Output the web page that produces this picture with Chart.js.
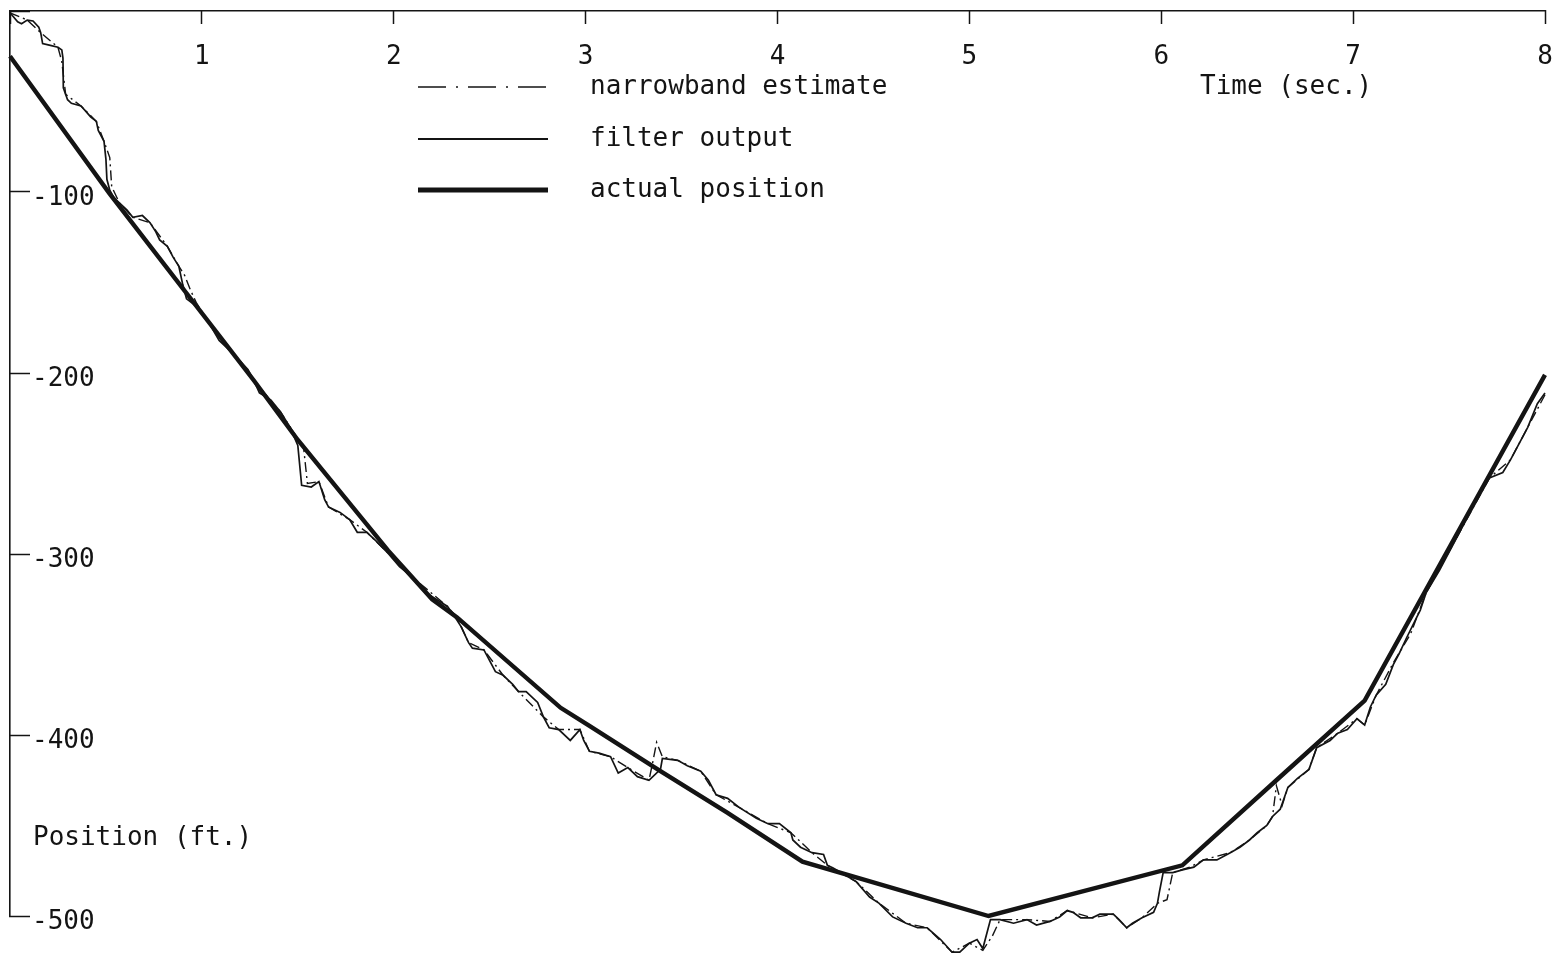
<!DOCTYPE html>
<html>
<head>
<meta charset="utf-8">
<title>Position vs. time</title>
<script src="https://cdn.jsdelivr.net/npm/chart.js@4.4.1/dist/chart.umd.min.js"></script>
<style>
  html, body { margin: 0; padding: 0; background: #ffffff; }
  canvas { display: block; }
</style>
</head>
<body>
<canvas id="plot" width="1558" height="960"></canvas>
<script>
// Tick labels shown on the axes
const timeTicks = [1, 2, 3, 4, 5, 6, 7, 8];
const positionTicks = [-100, -200, -300, -400, -500];

// Series names (legend order)
const seriesNames = ['narrowband estimate', 'filter output', 'actual position'];
const xTitle = 'Time (sec.)';
const yTitle = 'Position (ft.)';

// actual position: [time (s), position (ft)]
const actualPosition = [
  [0, -25], [0.52, -101], [1.27, -204], [1.50, -237], [1.97, -298], [2.20, -325],
  [2.33, -335], [2.87, -385], [3.02, -395], [3.39, -420], [3.74, -443], [4.13, -470],
  [5.10, -500], [6.11, -472], [6.60, -425], [7.06, -381], [8.00, -201]
];

// filter output: [time (s), position (ft)]
const filterOutput = [
  [0, -1], [0.04, -6], [0.06, -7], [0.09, -5], [0.12, -5.5], [0.15, -9], [0.16, -12], [0.17, -18], [0.21, -19], [0.25, -20],
  [0.27, -21.5], [0.276, -26], [0.278, -42.5], [0.30, -49], [0.32, -51], [0.37, -52.5], [0.40, -56], [0.42, -58.5], [0.45, -61], [0.46, -66],
  [0.49, -72], [0.50, -82], [0.505, -93], [0.52, -99], [0.54, -103], [0.57, -106], [0.61, -110], [0.64, -114], [0.69, -113], [0.73, -117],
  [0.76, -122], [0.78, -126.5], [0.82, -130], [0.85, -136], [0.88, -141], [0.90, -151], [0.92, -159], [0.97, -163], [1.03, -171], [1.09, -182],
  [1.16, -189], [1.24, -198], [1.27, -204], [1.30, -211], [1.36, -215], [1.41, -221.5], [1.46, -230], [1.50, -240], [1.52, -262], [1.57, -263],
  [1.61, -260], [1.64, -270], [1.66, -274], [1.72, -277], [1.77, -281], [1.81, -288], [1.86, -288], [1.91, -293], [1.97, -299.5], [2.03, -307],
  [2.10, -313], [2.17, -321.5], [2.28, -329], [2.32, -335], [2.35, -340], [2.39, -349], [2.41, -352], [2.47, -353], [2.49, -357], [2.53, -365],
  [2.57, -367], [2.62, -372], [2.65, -376], [2.69, -376], [2.75, -382], [2.78, -390], [2.81, -396], [2.86, -397], [2.92, -403], [2.97, -397],
  [2.99, -403], [3.02, -409], [3.07, -410], [3.13, -412], [3.17, -421], [3.22, -418], [3.27, -423], [3.33, -425], [3.39, -419], [3.40, -413],
  [3.48, -414], [3.53, -417], [3.60, -420], [3.64, -425], [3.68, -433], [3.74, -435], [3.80, -440], [3.89, -446], [3.95, -449], [4.01, -449],
  [4.07, -454], [4.08, -458], [4.12, -462], [4.18, -465], [4.24, -466], [4.26, -472], [4.29, -473.5], [4.41, -481], [4.48, -489.5], [4.53, -493],
  [4.60, -500.5], [4.67, -504], [4.73, -506.5], [4.78, -506.5], [4.85, -513], [4.91, -520], [4.95, -520], [5.00, -515], [5.04, -513], [5.07, -518],
  [5.11, -502], [5.16, -502], [5.23, -504], [5.30, -502], [5.35, -505], [5.42, -503], [5.47, -500.5], [5.51, -497], [5.54, -498], [5.58, -501],
  [5.64, -501], [5.68, -499], [5.75, -499], [5.78, -502], [5.82, -506.5], [5.85, -504], [5.90, -501], [5.96, -498], [5.98, -493], [5.99, -487],
  [6.01, -476], [6.06, -476], [6.11, -474.5], [6.17, -473], [6.22, -469], [6.29, -469], [6.36, -465], [6.41, -462], [6.46, -458], [6.50, -454],
  [6.55, -450], [6.58, -445], [6.62, -441], [6.66, -429], [6.71, -424], [6.77, -419], [6.80, -410], [6.81, -407], [6.88, -403], [6.92, -399],
  [6.97, -397], [7.02, -391], [7.06, -394.5], [7.09, -384.5], [7.12, -378], [7.17, -372], [7.21, -361], [7.24, -355], [7.28, -346], [7.35, -331],
  [7.38, -321.5], [7.45, -309], [7.54, -291], [7.62, -274], [7.71, -258], [7.78, -255], [7.82, -248], [7.91, -230], [7.96, -217], [8.00, -211]
];

// narrowband estimate: [time (s), position (ft)]
const narrowbandEstimate = [
  [0, -1], [0.09, -5], [0.16, -12], [0.25, -20], [0.27, -28], [0.29, -46], [0.37, -52.5], [0.45, -61], [0.49, -72], [0.52, -81],
  [0.53, -97], [0.57, -106], [0.64, -114], [0.73, -117], [0.82, -130], [0.88, -141], [0.91, -146], [0.94, -154], [0.97, -161], [1.03, -171],
  [1.16, -189], [1.27, -204], [1.41, -221.5], [1.47, -231.5], [1.53, -241], [1.55, -261], [1.61, -260], [1.66, -274], [1.77, -281], [1.86, -288],
  [1.97, -299.5], [2.10, -313], [2.28, -329], [2.33, -335], [2.39, -349], [2.47, -353], [2.57, -367], [2.65, -376], [2.78, -390], [2.86, -397],
  [2.97, -397], [3.02, -409], [3.13, -412], [3.22, -418], [3.33, -425], [3.35, -415], [3.37, -404], [3.40, -412], [3.48, -414], [3.60, -420],
  [3.68, -433], [3.80, -440], [3.95, -449], [4.07, -454], [4.18, -465], [4.26, -472], [4.41, -481], [4.53, -493], [4.67, -504], [4.78, -506.5],
  [4.91, -520], [5.00, -515], [5.07, -519], [5.12, -511], [5.16, -502], [5.30, -502], [5.42, -503], [5.51, -497], [5.64, -501], [5.75, -499],
  [5.82, -506.5], [5.90, -501], [5.98, -493], [6.03, -491], [6.06, -476], [6.15, -473], [6.22, -469], [6.36, -465], [6.46, -458], [6.55, -450],
  [6.58, -445], [6.60, -428], [6.63, -439], [6.66, -429], [6.77, -419], [6.81, -407], [6.92, -399], [7.02, -391], [7.06, -394.5], [7.12, -378],
  [7.21, -360], [7.30, -344], [7.38, -321.5], [7.54, -291], [7.71, -258], [7.82, -248], [7.91, -230], [8.00, -212]
];

const ink = '#141414';
const fontFamily = "'DejaVu Sans Mono', 'Liberation Mono', monospace";
const toPoints = (rows) => rows.map(([x, y]) => ({ x, y }));

Chart.defaults.font.family = fontFamily;
Chart.defaults.font.size = 26;
Chart.defaults.color = ink;

// Both axes sit flush on the plot edge, labels drawn inside the plot area
function flushAxis(scale) {
  if (scale.isHorizontal()) { scale.height = 0; } else { scale.width = 0; }
  scale.paddingLeft = 0;
  scale.paddingRight = 0;
  scale.paddingTop = 0;
  scale.paddingBottom = 0;
}

// Legend sample styles and the free-standing axis captions
const legendStyles = [
  { width: 1.6, dash: [28, 10, 2, 10] },
  { width: 2.0, dash: [] },
  { width: 5.0, dash: [] }
];

const captions = {
  id: 'captions',
  afterDraw(chart) {
    const { ctx } = chart;
    ctx.save();
    ctx.font = '26px ' + fontFamily;
    ctx.fillStyle = ink;
    ctx.strokeStyle = ink;
    ctx.textBaseline = 'middle';
    ctx.textAlign = 'left';

    const rowY = [87, 139, 190];
    seriesNames.forEach((name, i) => {
      const st = legendStyles[i];
      ctx.lineWidth = st.width;
      ctx.setLineDash(st.dash);
      ctx.lineCap = 'butt';
      ctx.beginPath();
      ctx.moveTo(418, rowY[i]);
      ctx.lineTo(548, rowY[i]);
      ctx.stroke();
      ctx.setLineDash([]);
      ctx.fillText(name, 590, rowY[i]);
    });

    ctx.fillText(xTitle, 1200, 87);
    ctx.fillText(yTitle, 33, 838);
    ctx.restore();
  }
};

new Chart(document.getElementById('plot'), {
  type: 'line',
  data: {
    datasets: [
      {
        label: seriesNames[0],
        data: toPoints(narrowbandEstimate),
        borderColor: ink,
        borderWidth: 1.4,
        borderDash: [10, 4, 2, 4],
        pointRadius: 0,
        tension: 0,
        clip: false,
        order: 0
      },
      {
        label: seriesNames[1],
        data: toPoints(filterOutput),
        borderColor: ink,
        borderWidth: 1.7,
        pointRadius: 0,
        tension: 0,
        clip: false,
        order: 1
      },
      {
        label: seriesNames[2],
        data: toPoints(actualPosition),
        borderColor: ink,
        borderWidth: 4.4,
        pointRadius: 0,
        tension: 0,
        clip: false,
        order: 2
      }
    ]
  },
  options: {
    responsive: false,
    animation: false,
    events: [],
    layout: { autoPadding: false, padding: { left: 10, right: 13, top: 11, bottom: 44 } },
    plugins: { legend: { display: false }, tooltip: { enabled: false } },
    scales: {
      x: {
        type: 'linear',
        position: 'top',
        min: 0,
        max: 8,
        afterFit: flushAxis,
        border: { display: true, color: ink, width: 1.6 },
        grid: { drawOnChartArea: false, drawTicks: true, tickLength: -13, tickWidth: 1.5, tickColor: ink },
        ticks: {
          stepSize: 1,
          autoSkip: false,
          maxRotation: 0,
          mirror: true,
          padding: 31,
          color: ink,
          callback: (v) => (timeTicks.includes(v) ? String(v) : '')
        }
      },
      y: {
        type: 'linear',
        position: 'left',
        min: -500,
        max: 0,
        afterFit: flushAxis,
        border: { display: true, color: ink, width: 1.6 },
        grid: { drawOnChartArea: false, drawTicks: true, tickLength: -20, tickWidth: 1.5, tickColor: ink },
        ticks: {
          stepSize: 100,
          autoSkip: false,
          mirror: true,
          padding: 22,
          labelOffset: 6,
          color: ink,
          callback: (v) => (positionTicks.includes(v) ? String(v) : '')
        }
      }
    }
  },
  plugins: [captions]
});
</script>
</body>
</html>
